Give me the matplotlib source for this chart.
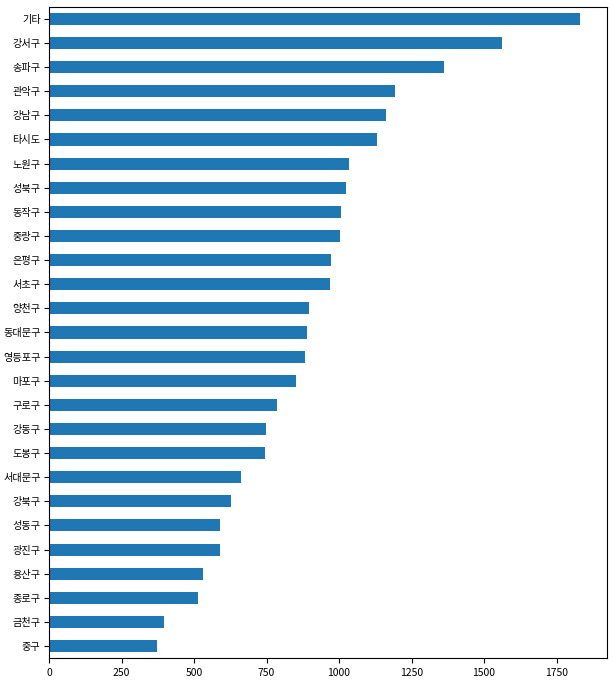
import matplotlib
matplotlib.use('Agg')
from matplotlib import pyplot as plt

# 구별 건수 (위에서 아래 순서)
districts = ['기타', '강서구', '송파구', '관악구', '강남구', '타시도', '노원구', '성북구',
             '동작구', '중랑구', '은평구', '서초구', '양천구', '동대문구', '영등포구', '마포구',
             '구로구', '강동구', '도봉구', '서대문구', '강북구', '성동구', '광진구', '용산구',
             '종로구', '금천구', '중구']
counts = [1832, 1561, 1363, 1192, 1162, 1132, 1033, 1025,
          1008, 1005, 974, 968, 898, 891, 884, 853,
          785, 748, 743, 663, 627, 591, 588, 532,
          515, 396, 372]

plt.rcParams['font.family'] = ['Noto Sans CJK KR', 'DejaVu Sans']
plt.rcParams['axes.unicode_minus'] = False

fig = plt.figure(figsize=(6.13, 6.82), dpi=100)
ax = fig.add_axes([0.080, 0.035, 0.910, 0.955])

# pandas barh 처럼 아래에서부터 그림
names = districts[::-1]
vals = counts[::-1]
ax.barh(range(len(names)), vals, height=0.5, color='#1f77b4')
ax.set_yticks(range(len(names)))
ax.set_yticklabels(names)
ax.set_ylim(-0.5, len(names) - 0.5)
ax.set_xticks([0, 250, 500, 750, 1000, 1250, 1500, 1750])
ax.tick_params(axis='y', labelsize=7.3, pad=2.5)
ax.tick_params(axis='x', labelsize=7.5)

fig.savefig('out.png', dpi=100)
